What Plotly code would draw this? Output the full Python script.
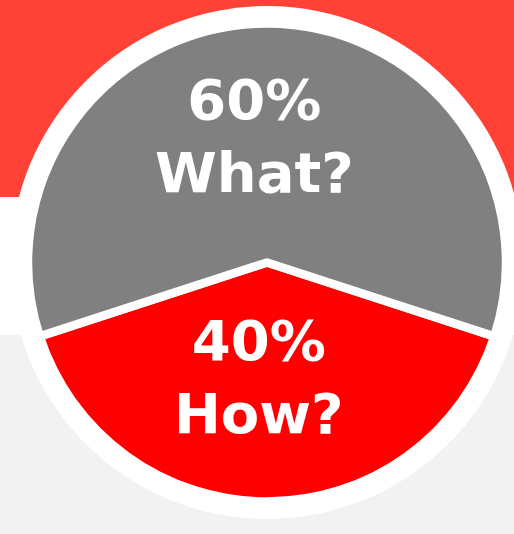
import plotly.graph_objects as go

# Survey split between the two questions
labels = ["How?", "What?"]
shares = [40, 60]
slice_colors = ["#FF0000", "#808080"]

W, H = 514, 534

# pie geometry in pixels (centre measured from the top-left corner)
cx, cy, r = 267, 262.5, 239
ring_r = 256.5

def px_x(x):
    return x / W

def px_y(y):
    return 1 - y / H

fig = go.Figure(
    go.Pie(
        labels=labels,
        values=shares,
        sort=False,
        direction="clockwise",
        rotation=108,
        marker=dict(colors=slice_colors, line=dict(color="white", width=8.5)),
        textinfo="none",
        hoverinfo="label+percent",
        showlegend=False,
        domain=dict(x=[px_x(cx - r), px_x(cx + r)], y=[px_y(cy + r), px_y(cy - r)]),
    )
)

shapes = [
    # red band at the top
    dict(type="rect", xref="paper", yref="paper", x0=0, x1=1, y0=px_y(197), y1=1,
         fillcolor="#FF4136", line=dict(width=0), layer="below"),
    # white band in the middle
    dict(type="rect", xref="paper", yref="paper", x0=0, x1=1, y0=px_y(335), y1=px_y(197),
         fillcolor="#FFFFFF", line=dict(width=0), layer="below"),
    # white disc behind the pie
    dict(type="circle", xref="paper", yref="paper",
         x0=px_x(cx - ring_r), x1=px_x(cx + ring_r),
         y0=px_y(cy + ring_r), y1=px_y(cy - ring_r),
         fillcolor="#FFFFFF", line=dict(width=0), layer="below"),
]

# labels written on the slices
label_pos = {"What?": (254, 136), "How?": (259, 377)}
annotations = []
for lab, val in zip(labels, shares):
    x, y = label_pos[lab]
    annotations.append(dict(
        text=f"<b>{val}%<br>{lab}</b>", x=px_x(x), y=px_y(y), xref="paper", yref="paper",
        showarrow=False, xanchor="center", yanchor="middle",
        font=dict(family="DejaVu Sans", size=56, color="white"),
    ))

fig.update_layout(
    width=W, height=H,
    margin=dict(l=0, r=0, t=0, b=0),
    paper_bgcolor="#F2F2F2",
    plot_bgcolor="#F2F2F2",
    shapes=shapes,
    annotations=annotations,
)

fig.write_html("out.html", config={"displayModeBar": False})
